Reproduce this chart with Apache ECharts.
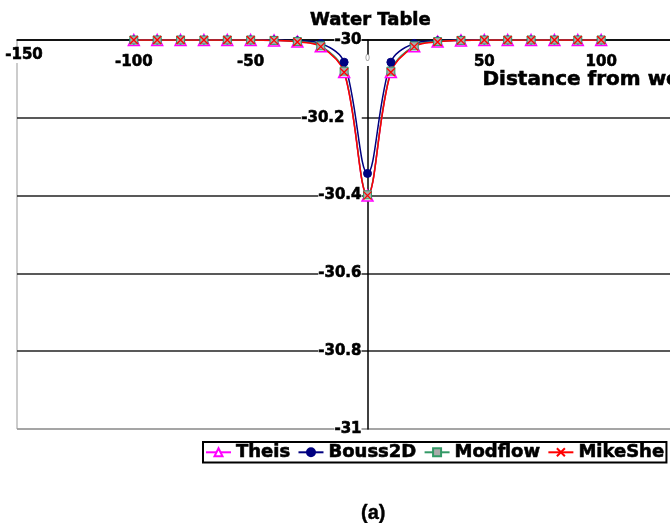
<!DOCTYPE html>
<html>
<head>
<meta charset="utf-8">
<script src="https://cdn.jsdelivr.net/npm/echarts@6/dist/echarts.min.js"></script>
<style>
  html, body { margin: 0; padding: 0; overflow: hidden; background: #fff; }
  #chart { width: 760px; height: 523px; }
</style>
</head>
<body>
<div id="chart"></div>
<script>
// Radial distance from the pumping well (m)
const distance = [-100, -90, -80, -70, -60, -50, -40, -30, -20, -10, 0, 10, 20, 30, 40, 50, 60, 70, 80, 90, 100];

// Water table elevation predicted by each model
const theis    = [-30, -30, -30, -30, -30, -30, -30.001, -30.004, -30.016, -30.082, -30.400, -30.082, -30.016, -30.004, -30.001, -30, -30, -30, -30, -30, -30];
const bouss2D  = [-30, -30, -30, -30, -30, -30, -30.000, -30.002, -30.009, -30.057, -30.343, -30.057, -30.009, -30.002, -30.000, -30, -30, -30, -30, -30, -30];
const modflow  = [-30, -30, -30, -30, -30, -30, -30.001, -30.004, -30.015, -30.080, -30.398, -30.080, -30.015, -30.004, -30.001, -30, -30, -30, -30, -30, -30];
const mikeShe  = [-30, -30, -30, -30, -30, -30, -30.001, -30.005, -30.017, -30.083, -30.400, -30.083, -30.017, -30.005, -30.001, -30, -30, -30, -30, -30, -30];

const seriesNames = ['Theis', 'Bouss2D', 'Modflow', 'MikeShe'];
const xTicks = { min: -150, max: 150, step: 50 };
const yTicks = { min: -31, max: -30, step: 0.2 };

const pairs = ys => distance.map((d, i) => [d, ys[i]]);
// heavy bold text: a thin outline in the same colour thickens the strokes
const boldFont = { fontFamily: 'DejaVu Sans', fontWeight: 'bold', color: '#000', textBorderColor: '#000', textBorderWidth: 0.6 };

// plot area in pixels; the vertical axis sits on distance 0
const plot = { left: 17, right: 42, top: 40, bottom: 94, width: 701 };
const yAxisShift = plot.width * (0 - xTicks.min) / (xTicks.max - xTicks.min);

const chart = echarts.init(document.getElementById('chart'), null, { renderer: 'canvas' });

chart.setOption({
  animation: false,
  backgroundColor: '#fff',
  title: [
    { text: 'Water Table', left: 310, top: 11, padding: 0,
      textStyle: Object.assign({ fontSize: 18 }, boldFont) },
    { text: '(a)', left: 361, top: 503, padding: 0,
      textStyle: { fontFamily: 'Liberation Sans', fontWeight: 'bold', fontSize: 20, color: '#000', textBorderColor: '#000', textBorderWidth: 0.4 } }
  ],
  legend: {
    data: seriesNames,
    left: 203, top: 442,
    itemWidth: 25, itemHeight: 10, itemGap: 7,
    padding: [1, 2, 1, 2],
    borderColor: '#000', borderWidth: 2,
    textStyle: Object.assign({ fontSize: 18 }, boldFont)
  },
  grid: {
    left: plot.left, right: plot.right, top: plot.top, bottom: plot.bottom,
    containLabel: false,
    outerBoundsMode: 'none',
    show: true, borderColor: '#999', borderWidth: 1
  },
  xAxis: {
    type: 'value',
    position: 'top',
    min: xTicks.min, max: xTicks.max, interval: xTicks.step,
    name: 'Distance from well (m)',
    nameLocation: 'middle',
    nameGap: -40,
    nameMoveOverlap: false,
    nameTextStyle: Object.assign({ fontSize: 20, align: 'left', verticalAlign: 'middle', padding: [0, 0, 0, 115] }, boldFont),
    axisLine: { onZero: false, lineStyle: { color: '#000', width: 1.5 } },
    axisTick: { show: false },
    splitLine: { show: false },
    axisLabel: Object.assign({
      inside: true, margin: 15, fontSize: 15,
      backgroundColor: '#fff',
      formatter: v => v === 0 ? '{z|0}' : (v === xTicks.min ? '{m|' + v + '}' : String(v)),
      rich: {
        z: { fontSize: 8, fontWeight: 'normal', color: '#999', fontFamily: 'DejaVu Sans', textBorderWidth: 0, padding: [0, 0, 3, 0] },
        m: { fontSize: 15, fontWeight: 'bold', fontFamily: 'DejaVu Sans', color: '#000', textBorderColor: '#000', textBorderWidth: 0.6, lineHeight: 8, padding: [0, 0, 7, 14] }
      }
    }, boldFont)
  },
  yAxis: {
    type: 'value',
    position: 'left',
    offset: -yAxisShift,
    min: yTicks.min, max: yTicks.max, interval: yTicks.step,
    axisLine: { show: true, onZero: false, lineStyle: { color: '#000', width: 1.5 } },
    axisTick: { show: false },
    splitLine: { lineStyle: { color: ['#999', '#222', '#222', '#222', '#222', '#222'], width: 1.5 } },
    axisLabel: Object.assign({
      margin: 6, fontSize: 15,
      backgroundColor: '#fff',
      formatter: v => {
        const s = String(Math.round(v * 10) / 10);
        return s === '-30.2' ? '{s|' + s + '}' : s;
      },
      rich: { s: { fontSize: 15, fontWeight: 'bold', fontFamily: 'DejaVu Sans', color: '#000', textBorderColor: '#000', textBorderWidth: 0.6, backgroundColor: '#fff', padding: [0, 17, 0, 0] } }
    }, boldFont)
  },
  series: [
    {
      name: 'Theis', type: 'line', data: pairs(theis), smooth: 0.35,
      symbol: 'triangle', symbolSize: 11,
      lineStyle: { color: '#ff00ff', width: 1.5 },
      itemStyle: { color: '#ffffff', borderColor: '#ff00ff', borderWidth: 1.5 }
    },
    {
      name: 'Bouss2D', type: 'line', data: pairs(bouss2D), smooth: 0.35,
      symbol: 'circle', symbolSize: 8,
      lineStyle: { color: '#000080', width: 1.5 },
      itemStyle: { color: '#000080', borderColor: '#000080', borderWidth: 1 }
    },
    {
      name: 'Modflow', type: 'line', data: pairs(modflow), smooth: 0.35,
      symbol: 'rect', symbolSize: 8,
      lineStyle: { color: '#339966', width: 1.5 },
      itemStyle: { color: '#aaaaaa', borderColor: '#339966', borderWidth: 1 }
    },
    {
      name: 'MikeShe', type: 'line', data: pairs(mikeShe), smooth: 0.35,
      symbol: 'path://M0,0L10,10M0,10L10,0', symbolSize: 8,
      lineStyle: { color: '#ff0000', width: 1.5 },
      itemStyle: { color: '#ff0000', borderColor: '#ff0000', borderWidth: 1.3 }
    }
  ]
});
</script>
</body>
</html>
